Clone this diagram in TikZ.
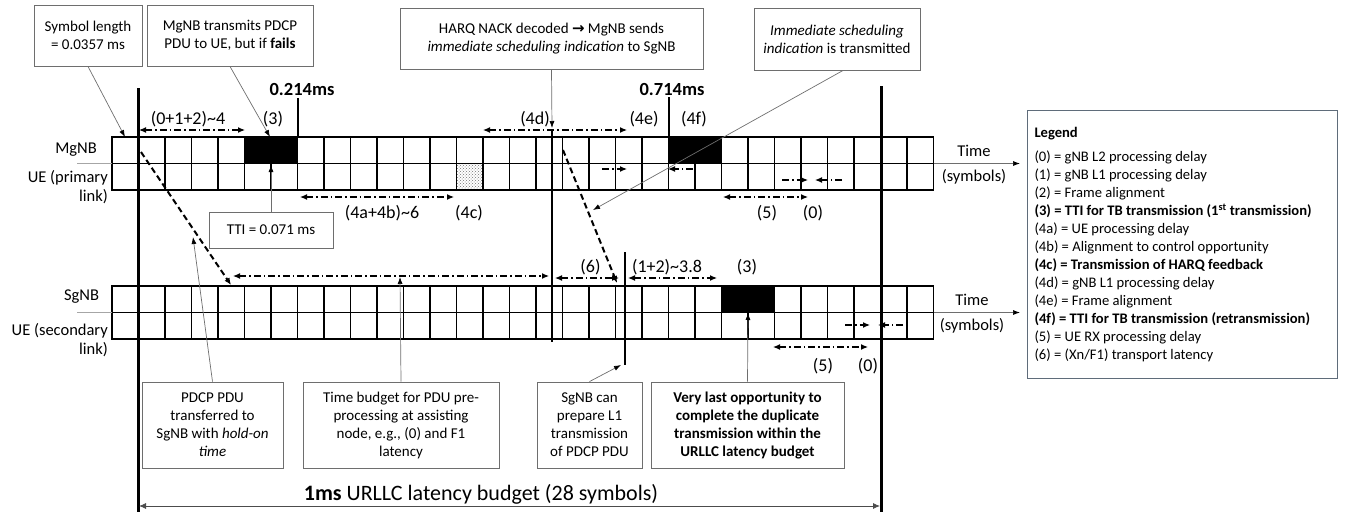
\documentclass[tikz,border=0pt]{standalone}
\usepackage{fontspec}
\setmainfont{Carlito}
\newfontfamily\arrowfont{DejaVu Sans}
\usetikzlibrary{arrows.meta, patterns, positioning}
\definecolor{notegray}{RGB}{110,110,110}
\definecolor{legendgray}{RGB}{95,108,122}

\begin{document}
\begin{tikzpicture}[x=1pt, y=-1pt, >={Latex[length=7pt,width=6pt]},
  tag/.style={font=\fontsize{18}{20}\selectfont, inner sep=0pt},
  rowname/.style={font=\fontsize{16.5}{19}\selectfont, inner sep=0pt},
  mark ms/.style={font=\bfseries\fontsize{18.5}{20}\selectfont, inner sep=0pt},
  notebox/.style={draw=notegray, line width=0.9pt, align=center, inner sep=0pt, font=\fontsize{15}{18}\selectfont},
  pointer/.style={draw=notegray, line width=0.7pt, -{Latex[length=7pt,width=5pt,color=black]}},
  dimarrow/.style={<->, line width=1.2pt, dash pattern=on 7pt off 3pt on 1.5pt off 3pt},
  halfarrow/.style={dimarrow, ->},
  hop/.style={->, line width=2pt, dash pattern=on 6pt off 3.5pt},
  cell/.style={draw, line width=1.3pt},
  busy/.style={fill=black}]
  \useasboundingbox (0,0) rectangle (1346,512);

  % symbol grids (MgNB/UE and SgNB/UE)
  \foreach \top in {137,286}
    \foreach \i in {0,...,30}
      \draw[cell] ({112+26.5*\i},\top) rectangle ++(26.5,26.5) ++(-26.5,0) rectangle ++(26.5,26.5);
  \fill[busy] (244.5,137) rectangle (297.5,163.5);
  \fill[busy] (668.5,137) rectangle (721.5,163.5);
  \fill[busy] (721.5,286) rectangle (774.5,312.5);
  \fill[white] (456.5,163.5) rectangle (483,190);
  \fill[pattern=crosshatch dots, pattern color=black!55] (456.5,163.5) rectangle (483,190);
  \draw[cell] (456.5,163.5) rectangle (483,190);

  % row names and time axes
  \node[rowname] (mgnb) at (76,150) {MgNB};
  \node[rowname, align=right, anchor=east] (uep) at (108,187.5) {UE (primary\\link)};
  \node[rowname] (sgnb) at (81.5,297) {SgNB};
  \node[rowname, align=right, anchor=east] (ues) at (108,340.5) {UE (secondary\\link)};
  \draw[black!35, line width=0.8pt] (77,163.5) -- (112,163.5);
  \draw[black!35, line width=0.8pt] (77,312.5) -- (112,312.5);
  \draw[pointer] (933.5,163.5) -- (1020,163.5);
  \draw[pointer] (933.5,312.5) -- (1020,312.5);
  \node[rowname] (time1) at (974,151) {Time};
  \node[rowname] (symb1) at (974,177) {(symbols)};
  \node[rowname] (time2) at (972,300) {Time};
  \node[rowname] (symb2) at (972,326) {(symbols)};

  % time markers
  \draw[line width=3pt] (138.5,88) -- (138.5,512);
  \draw[line width=3pt] (881,86) -- (881,512);
  \draw[line width=2pt] (297.5,98) -- (297.5,137);
  \draw[line width=2pt] (668.5,97) -- (668.5,137);
  \draw[line width=2.5pt] (552,130) -- (552,342);
  \draw[line width=2.5pt] (625,252) -- (625,365);
  \node[mark ms] (t214) at (302,89) {0.214ms};
  \node[mark ms] (t714) at (672,89) {0.714ms};

  % delay spans
  \draw[dimarrow] (139,130) -- (245,130);
  \draw[dimarrow] (300,197) -- (454,197);
  \draw[dimarrow] (483,130) -- (627,130);
  \draw[dimarrow] (723,197) -- (808,197);
  \draw[dimarrow] (233,276) -- (549,276);
  \draw[dimarrow] (555,278) -- (619,278);
  \draw[dimarrow] (628,278) -- (717,278);
  \draw[dimarrow] (773,347) -- (868,347);
  \draw[halfarrow] (602,169) -- (627,169);
  \draw[halfarrow] (693,169) -- (668,169);
  \draw[halfarrow] (782,180) -- (808,180);
  \draw[halfarrow] (842,180) -- (815,180);
  \draw[halfarrow] (845,325) -- (870,325);
  \draw[halfarrow] (903,325) -- (878,325);
  \node[tag] (d012) at (188,119) {(0+1+2)\textasciitilde4};
  \node[tag] (d3a) at (273,119) {(3)};
  \node[tag] (d4d) at (535,119) {(4d)};
  \node[tag] (d4e) at (644,119) {(4e)};
  \node[tag] (d4f) at (694,119) {(4f)};
  \node[tag] (d4ab) at (382,213.5) {(4a+4b)\textasciitilde6};
  \node[tag] (d4c) at (469,213.5) {(4c)};
  \node[tag] (d5a) at (767,213.5) {(5)};
  \node[tag] (d0a) at (813,213.5) {(0)};
  \node[tag] (d6) at (590.5,267) {(6)};
  \node[tag] (d12) at (667,267) {(1+2)\textasciitilde3.8};
  \node[tag] (d3b) at (747,267) {(3)};
  \node[tag] (d5b) at (823,366.5) {(5)};
  \node[tag] (d0b) at (868,366.5) {(0)};

  % PDU hops MgNB -> SgNB
  \draw[hop] (141,152) -- (231,285);
  \draw[hop] (563,150) -- (617,283);

  % callouts
  \node[notebox, minimum width=108, minimum height=61] (sym) at (88,35.5) {Symbol length\\= 0.0357 ms};
  \node[notebox, minimum width=166, minimum height=61] (fail) at (230,35.5) {MgNB transmits PDCP\\PDU to UE, but if \textbf{fails}};
  \node[notebox, minimum width=303, minimum height=61] (nack) at (551.5,38.5) {HARQ NACK decoded {\arrowfont\bfseries →} MgNB sends\\\textit{immediate scheduling indication} to SgNB};
  \node[notebox, minimum width=166, minimum height=62] (imm) at (837,39) {\textit{Immediate scheduling}\\\textit{indication} is transmitted};
  \node[notebox, minimum width=124, minimum height=36] (tti) at (271,230) {TTI = 0.071 ms};
  \node[notebox, minimum width=141, minimum height=86] (hold) at (212.5,425) {PDCP PDU\\transferred to\\SgNB with \textit{hold-on}\\\textit{time}};
  \node[notebox, minimum width=196, minimum height=86] (prebudget) at (401,425) {Time budget for PDU pre-\\processing at assisting\\node, e.g., (0) and F1\\latency};
  \node[notebox, minimum width=105, minimum height=86] (prep) at (589.5,425) {SgNB can\\prepare L1\\transmission\\of PDCP PDU};
  \node[notebox, minimum width=193, minimum height=86, font=\bfseries\fontsize{15}{18}\selectfont] (last) at (747.5,425) {Very last opportunity to\\complete the duplicate\\transmission within the\\URLLC latency budget};

  \coordinate (symtip) at (125,137);
  \coordinate (failtip) at (270,137);
  \coordinate (nacktip) at (552,128);
  \coordinate (immtip) at (593,210);
  \coordinate (ttitip) at (271,165);
  \coordinate (holdtip) at (193,237);
  \coordinate (budgettip) at (400,277);
  \coordinate (preptip) at (621,365);
  \coordinate (lasttip) at (748,313);
  \draw[pointer] (sym.south) -- (symtip);
  \draw[pointer] (fail.south) -- (failtip);
  \draw[pointer] (nack.south) -- (nacktip);
  \draw[pointer] ([xshift=6pt]imm.south) -- (immtip);
  \draw[pointer] (tti.north) -- (ttitip);
  \draw[pointer] (hold.north) -- (holdtip);
  \draw[pointer] (prebudget.north) -- (budgettip);
  \draw[pointer] (prep.north) -- (preptip);
  \draw[pointer] (last.north) -- (lasttip);

  % overall budget
  \node[inner sep=0pt, font=\fontsize{22}{24}\selectfont] (urllc) at (481,494) {\textbf{1ms} URLLC latency budget (28 symbols)};
  \draw[<->, line width=0.8pt, black!70] (139,506) -- (880,506);

  % legend
  \node[draw=legendgray, line width=1pt, anchor=north west, align=flush left,
        minimum width=310, minimum height=268, text width=296, inner xsep=7pt,
        font=\fontsize{14.6}{18}\selectfont] (legend) at (1027,110)
    {\textbf{Legend}\\[6pt]
     (0) = gNB L2 processing delay\\
     (1) = gNB L1 processing delay\\
     (2) = Frame alignment\\
     \textbf{(3) = TTI for TB transmission (1\textsuperscript{st} transmission)}\\
     (4a) = UE processing delay\\
     (4b) = Alignment to control opportunity\\
     \textbf{(4c) = Transmission of HARQ feedback}\\
     (4d) = gNB L1 processing delay\\
     (4e) = Frame alignment\\
     \textbf{(4f) = TTI for TB transmission (retransmission)}\\
     (5) = UE RX processing delay\\
     (6) = (Xn/F1) transport latency};
\end{tikzpicture}
\end{document}
